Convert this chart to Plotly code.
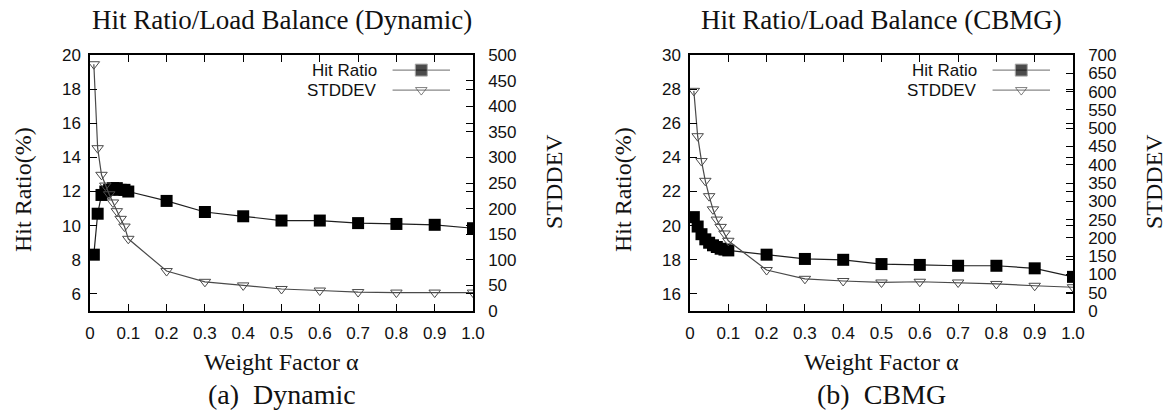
import plotly.graph_objects as go

# ---------------- data ----------------
alpha = [0.01, 0.02, 0.03, 0.04, 0.05, 0.06, 0.07, 0.08, 0.09, 0.1,
         0.2, 0.3, 0.4, 0.5, 0.6, 0.7, 0.8, 0.9, 1.0]
dyn_hit = [8.3, 10.7, 11.8, 12.0, 12.1, 12.2, 12.2, 12.1, 12.1, 12.0,
           11.45, 10.8, 10.55, 10.3, 10.3, 10.15, 10.1, 10.05, 9.85]
dyn_std = [482, 318, 266, 245, 228, 212, 195, 180, 165, 141,
           78, 57, 50, 43, 40, 37, 36, 36, 36]
cbmg_hit = [20.5, 19.95, 19.5, 19.2, 19.0, 18.85, 18.75, 18.65, 18.6, 18.55,
            18.3, 18.05, 18.0, 17.75, 17.7, 17.65, 17.65, 17.5, 17.0]
cbmg_std = [602, 478, 410, 356, 314, 278, 250, 230, 212, 192,
            112, 88, 82, 78, 80, 78, 74, 69, 65]

x_ticks = [0, 0.1, 0.2, 0.3, 0.4, 0.5, 0.6, 0.7, 0.8, 0.9, 1.0]
x_ticktext = ["0", "0.1", "0.2", "0.3", "0.4", "0.5", "0.6", "0.7", "0.8", "0.9", "1.0"]

titles = ["Hit Ratio/Load Balance (Dynamic)", "Hit Ratio/Load Balance (CBMG)"]
captions = ["(a)  Dynamic", "(b)  CBMG"]
series_names = ["Hit Ratio", "STDDEV"]

# ---------------- style ----------------
W, H = 1170, 418
SANS = "Liberation Sans, Arial, sans-serif"
SERIF = "Liberation Serif, Times New Roman, serif"
TXT = "#111111"
HIT_COLOR = "#1e1e1e"
STD_COLOR = "#4a4a4a"

# plot areas in pixels
panels = [dict(x0=90, x1=473), dict(x0=690, x1=1073)]
py0, py1 = 55, 311


def px_x(p):
    return p / W


def px_y(p):
    return 1 - p / H


ydom = [px_y(py1), px_y(py0)]

fig = go.Figure()

hit_marker = dict(symbol="square", size=12, color="black", line=dict(width=0))
std_marker = dict(symbol="triangle-down-open", size=10, color=STD_COLOR, line=dict(width=1))

# left panel
fig.add_trace(go.Scatter(x=alpha, y=dyn_std, mode="lines+markers", xaxis="x", yaxis="y2",
                         line=dict(color=STD_COLOR, width=1.2), marker=std_marker,
                         name=series_names[1], showlegend=False))
fig.add_trace(go.Scatter(x=alpha, y=dyn_hit, mode="lines+markers", xaxis="x", yaxis="y",
                         line=dict(color=HIT_COLOR, width=1.2), marker=hit_marker,
                         name=series_names[0], showlegend=False))
# right panel
fig.add_trace(go.Scatter(x=alpha, y=cbmg_std, mode="lines+markers", xaxis="x2", yaxis="y4",
                         line=dict(color=STD_COLOR, width=1.2), marker=std_marker,
                         name=series_names[1], showlegend=False))
fig.add_trace(go.Scatter(x=alpha, y=cbmg_hit, mode="lines+markers", xaxis="x2", yaxis="y3",
                         line=dict(color=HIT_COLOR, width=1.2), marker=hit_marker,
                         name=series_names[0], showlegend=False))

# legend keys (gnuplot style: text then sample) on hidden unit axes
key_x = [0.79, 0.865, 0.94]
key_rows = [0.941, 0.863]
for xa, ya in [("x3", "y5"), ("x4", "y6")]:
    fig.add_trace(go.Scatter(x=key_x, y=[key_rows[0]] * 3, mode="lines+markers", xaxis=xa, yaxis=ya,
                             line=dict(color="#888888", width=1.2),
                             marker=dict(symbol="square", size=[0, 12, 0], color="black"),
                             hoverinfo="skip", showlegend=False))
    fig.add_trace(go.Scatter(x=key_x, y=[key_rows[1]] * 3, mode="lines+markers", xaxis=xa, yaxis=ya,
                             line=dict(color="#888888", width=1.2),
                             marker=dict(symbol="triangle-down-open", size=[0, 10, 0], color=STD_COLOR,
                                         line=dict(width=1)),
                             hoverinfo="skip", showlegend=False))

axis_common = dict(showline=True, linecolor="black", linewidth=1.5, ticks="inside",
                   ticklen=7, tickcolor="black", tickwidth=1.2, showgrid=False, zeroline=False,
                   automargin=False,
                   tickfont=dict(family=SANS, size=17, color=TXT))

layout = dict(
    width=W, height=H, margin=dict(l=0, r=0, t=0, b=0, pad=0, autoexpand=False),
    paper_bgcolor="white", plot_bgcolor="white", showlegend=False,
)

for i, p in enumerate(panels):
    xn = "xaxis" if i == 0 else "xaxis2"
    xid = "x" if i == 0 else "x2"
    yl = "yaxis" if i == 0 else "yaxis3"
    ylid = "y" if i == 0 else "y3"
    yr = "yaxis2" if i == 0 else "yaxis4"
    dom = [px_x(p["x0"]), px_x(p["x1"])]
    layout[xn] = dict(axis_common, domain=dom, range=[0, 1], anchor=ylid, mirror="ticks",
                      tickvals=x_ticks, ticktext=x_ticktext, ticklabelstandoff=6)
    layout[yl] = dict(axis_common, domain=ydom, range=[5, 20] if i == 0 else [15, 30],
                      dtick=2, tick0=0, anchor=xid, mirror="ticks", ticklabelstandoff=4)
    layout[yr] = dict(axis_common, overlaying=ylid, side="right", anchor=xid,
                      range=[0, 500] if i == 0 else [0, 700], dtick=50, tick0=0,
                      ticklabelstandoff=10)
    # hidden key axes
    kx = "xaxis3" if i == 0 else "xaxis4"
    ky = "yaxis5" if i == 0 else "yaxis6"
    layout[kx] = dict(overlaying=xid, range=[0, 1], visible=False, automargin=False,
                      anchor=("y5" if i == 0 else "y6"))
    layout[ky] = dict(overlaying=ylid, range=[0, 1], visible=False, automargin=False,
                      anchor=("x3" if i == 0 else "x4"))

fig.update_layout(**layout)

annotations = []
for i, p in enumerate(panels):
    cx = (p["x0"] + p["x1"]) / 2
    annotations.append(dict(text=titles[i], x=px_x(cx), y=px_y(20), xref="paper", yref="paper",
                            showarrow=False, font=dict(family=SERIF, size=27, color=TXT),
                            xanchor="center", yanchor="middle"))
    annotations.append(dict(text="Weight Factor α", x=px_x(cx), y=px_y(362), xref="paper", yref="paper",
                            showarrow=False, font=dict(family=SERIF, size=24, color=TXT),
                            xanchor="center", yanchor="middle"))
    annotations.append(dict(text=captions[i], x=px_x(cx), y=px_y(394), xref="paper", yref="paper",
                            showarrow=False, font=dict(family=SERIF, size=28, color=TXT),
                            xanchor="center", yanchor="middle"))
    annotations.append(dict(text="Hit Ratio(%)", x=px_x(p["x0"] - 67), y=px_y(190), xref="paper",
                            yref="paper", showarrow=False, textangle=-90,
                            font=dict(family=SERIF, size=24, color=TXT),
                            xanchor="center", yanchor="middle"))
    annotations.append(dict(text="STDDEV", x=px_x(p["x1"] + 81), y=px_y(182), xref="paper",
                            yref="paper", showarrow=False, textangle=-90,
                            font=dict(family=SERIF, size=24, color=TXT),
                            xanchor="center", yanchor="middle"))
    # legend labels
    for r, name in enumerate(series_names):
        annotations.append(dict(text=name, x=0.755, y=key_rows[r],
                                xref=("x domain" if i == 0 else "x2 domain"),
                                yref=("y domain" if i == 0 else "y3 domain"),
                                showarrow=False, font=dict(family=SANS, size=17, color=TXT),
                                xanchor="right", yanchor="middle"))

fig.update_layout(annotations=annotations)
fig.write_html("out.html", config={"displayModeBar": False},
               post_script="document.body.style.margin='0';document.body.style.overflow='hidden';")
